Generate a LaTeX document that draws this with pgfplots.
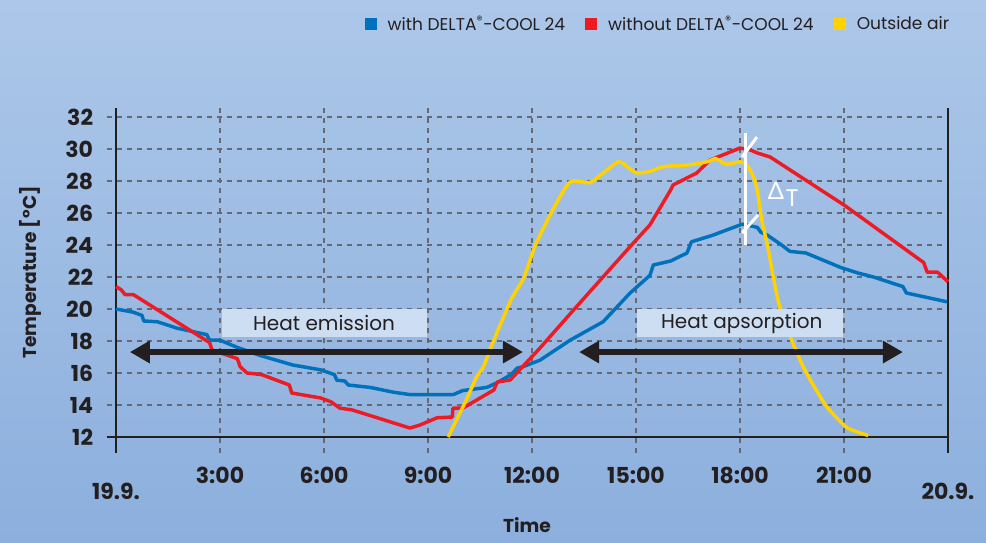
\documentclass[border=0pt]{standalone}
\usepackage{pgfplots}
\pgfplotsset{compat=1.18}
\usetikzlibrary{arrows.meta}
\usepackage{fontspec}
\setmainfont{Poppins}
\newfontfamily\greekfont{Lato}
\definecolor{bgtop}{RGB}{172,199,233}
\definecolor{bgbot}{RGB}{140,175,221}
\definecolor{cblue}{RGB}{0,114,188}
\definecolor{cred}{RGB}{237,28,36}
\definecolor{cyellow}{RGB}{255,210,0}
\definecolor{ink}{RGB}{35,31,32}
\definecolor{gridc}{RGB}{100,105,115}
\definecolor{boxc}{RGB}{205,222,243}
\begin{document}
\begin{tikzpicture}
\shade[top color=bgtop, bottom color=bgbot] (0,0) rectangle (739.5pt,407.25pt);
\useasboundingbox (0,0) rectangle (739.5pt,407.25pt);
\begin{axis}[
 at={(87pt,79.5pt)}, anchor=south west, scale only axis,
 width=624pt, height=246.75pt,
 xmin=0, xmax=24, ymin=12, ymax=32.5625,
 clip=false,
 axis line style={draw=none},
 major tick length=0pt,
 xtick={3,6,...,21}, xticklabels={3:00,6:00,9:00,12:00,15:00,18:00,21:00},
 extra x ticks={0,24}, extra x tick labels={19.9.,20.9.},
 extra x tick style={xticklabel style={yshift=-12pt}},
 ytick={12,14,...,32},
 /pgf/number format/assume math mode=true,
 tick label style={font=\bfseries\fontsize{16.5}{16.5}\selectfont, text=ink},
 xticklabel style={anchor=center, inner sep=0pt, yshift=-28.5pt},
 yticklabel style={anchor=east, inner sep=0pt, xshift=-17pt},
 xlabel={Time}, ylabel={Temperature [°C]},
 label style={font=\bfseries\fontsize{14}{14}\selectfont, text=ink},
 xlabel style={at={(axis description cs:0.494,-0.2675)}, anchor=center},
 ylabel style={at={(axis description cs:-0.1034,0.5)}, anchor=center},
 legend style={at={(axis description cs:1.005,1.255)}, anchor=east, draw=none, fill=none,
   legend columns=3, font=\fontsize{12.8}{12.8}\selectfont, text=ink, inner sep=0pt,
   /tikz/every even column/.append style={column sep=13pt}},
 legend image code/.code={\fill[#1,draw=none] (0pt,-4.5pt) rectangle (9pt,4.5pt); \path (14pt,0pt);},
]
% grid
\pgfplotsinvokeforeach{14,16,...,32}{
  \draw[gridc, line width=0.8pt, dash pattern=on 3.5pt off 4pt] (axis cs:-0.26,#1) -- (axis cs:24,#1);
}
\pgfplotsinvokeforeach{3,6,...,21}{
  \draw[gridc, line width=0.8pt, dash pattern=on 3.5pt off 4pt] (axis cs:#1,11) -- (axis cs:#1,32.5625);
}
% axis lines
\draw[ink, line width=1.6pt] (axis cs:-0.26,12) -- (axis cs:24,12);
\draw[ink, line width=1.6pt] (axis cs:0,11) -- (axis cs:0,32.5625);
\draw[ink, line width=1.6pt] (axis cs:24,11) -- (axis cs:24,32.5625);

\addplot[cblue, line width=2.6pt, line join=round, mark=none] coordinates {
(0,20.0) (0.5,19.8) (0.75,19.6) (0.8,19.25) (1.2,19.2) (1.76,18.8) (2.62,18.4) (2.7,18.05)
(3.0,18.05) (3.5,17.6) (4.15,17.1) (5.1,16.5) (5.9,16.2) (6.3,15.9) (6.37,15.55) (6.6,15.5)
(6.7,15.25) (7.33,15.1) (8.0,14.8) (8.48,14.65) (9.0,14.65) (9.73,14.65) (10.0,14.9)
(10.7,15.1) (11.0,15.4) (11.4,15.9) (11.57,16.3) (11.75,16.4) (12.23,16.8) (13.1,18.05)
(14.05,19.2) (14.83,21.0) (15.4,22.1) (15.5,22.75) (16.0,23.0) (16.47,23.5) (16.6,24.2)
(17.2,24.6) (18.06,25.3) (18.2,25.25) (18.5,25.1) (18.6,24.8) (18.8,24.6) (19.0,24.3)
(19.2,24.0) (19.44,23.6) (19.9,23.5) (20.4,23.05) (20.9,22.6) (21.4,22.25) (21.85,22.0)
(22.7,21.4) (22.8,21.0) (23.97,20.45)
};
\addlegendentry{with DELTA\textsuperscript{®}-COOL 24}
\addplot[cred, line width=2.6pt, line join=round, mark=none] coordinates {
(0,21.4) (0.15,21.2) (0.26,20.9) (0.5,20.9) (2.7,17.9) (2.77,17.44) (3.5,16.9) (3.58,16.4)
(3.78,16.0) (4.2,15.9) (5.0,15.25) (5.07,14.75) (5.9,14.44) (6.2,14.2) (6.46,13.8) (6.8,13.7)
(8.48,12.56) (8.77,12.75) (9.26,13.2) (9.7,13.25) (9.72,13.8) (10.0,13.8) (10.9,14.94)
(11.0,15.44) (11.37,15.56) (12.23,17.56) (13.2,19.94) (14.83,23.9) (15.4,25.25) (16.0,27.44)
(16.07,27.75) (16.75,28.5) (17.13,29.3) (18.0,30.06) (18.3,29.94) (18.5,29.75) (18.87,29.5)
(21.0,26.5) (23.3,22.9) (23.4,22.3) (23.7,22.3) (24.0,21.7)
};
\addlegendentry{without DELTA\textsuperscript{®}-COOL 24}
\addplot[cyellow, line width=2.6pt, line join=round, mark=none, smooth, tension=0.4] coordinates {
(9.58,12.0) (10.1,14.3) (10.4,15.75) (10.6,16.4) (10.87,17.9) (11.4,20.6) (11.75,21.9)
(12.1,24.0) (12.6,26.2) (13.1,27.94) (13.67,27.9) (14.05,28.5) (14.5,29.2) (14.8,28.8)
(15.03,28.5) (15.4,28.6) (15.8,28.9) (16.5,29.0) (17.05,29.2) (17.3,29.4) (17.6,29.05)
(18.0,29.2) (18.2,29.0) (18.4,28.2) (18.5,27.4) (18.63,25.56) (18.8,23.9) (18.96,22.0)
(19.15,20.1) (19.5,18.0) (19.8,16.5) (20.1,15.3) (20.5,13.9) (21.08,12.6) (21.7,12.1)
};
\addlegendentry{Outside air}

% annotation boxes
\fill[boxc] (axis cs:3.06,20.0) rectangle (axis cs:8.97,18.25);
\node[font=\fontsize{15}{15}\selectfont, text=ink] at (axis cs:6.0,19.12) {Heat emission};
\fill[boxc] (axis cs:15.03,20.0) rectangle (axis cs:20.97,18.25);
\node[font=\fontsize{15}{15}\selectfont, text=ink] at (axis cs:18.05,19.12) {Heat apsorption};

% arrows
\addplot[ink, line width=4pt, {Triangle[length=15pt,width=16pt]}-{Triangle[length=15pt,width=16pt]}, forget plot] coordinates {(0.4,17.31) (11.74,17.31)};
\addplot[ink, line width=4pt, {Triangle[length=15pt,width=16pt]}-{Triangle[length=15pt,width=16pt]}, forget plot] coordinates {(13.36,17.31) (22.7,17.31)};

% Delta T marker
\addplot[white, line width=2.2pt, forget plot] coordinates {(18.17,24.0) (18.17,31.0)};
\addplot[white, line width=2.2pt, forget plot] coordinates {(18.06,29.5) (18.49,30.75)};
\addplot[white, line width=2.2pt, forget plot] coordinates {(18.06,24.75) (18.52,25.875)};
\node[text=white, font=\greekfont\fontsize{18}{18}\selectfont] at (axis cs:19.04,27.4) {Δ};
\node[text=white, font=\fontsize{18}{18}\selectfont] at (axis cs:19.5,26.9) {T};
\end{axis}
\end{tikzpicture}
\end{document}
